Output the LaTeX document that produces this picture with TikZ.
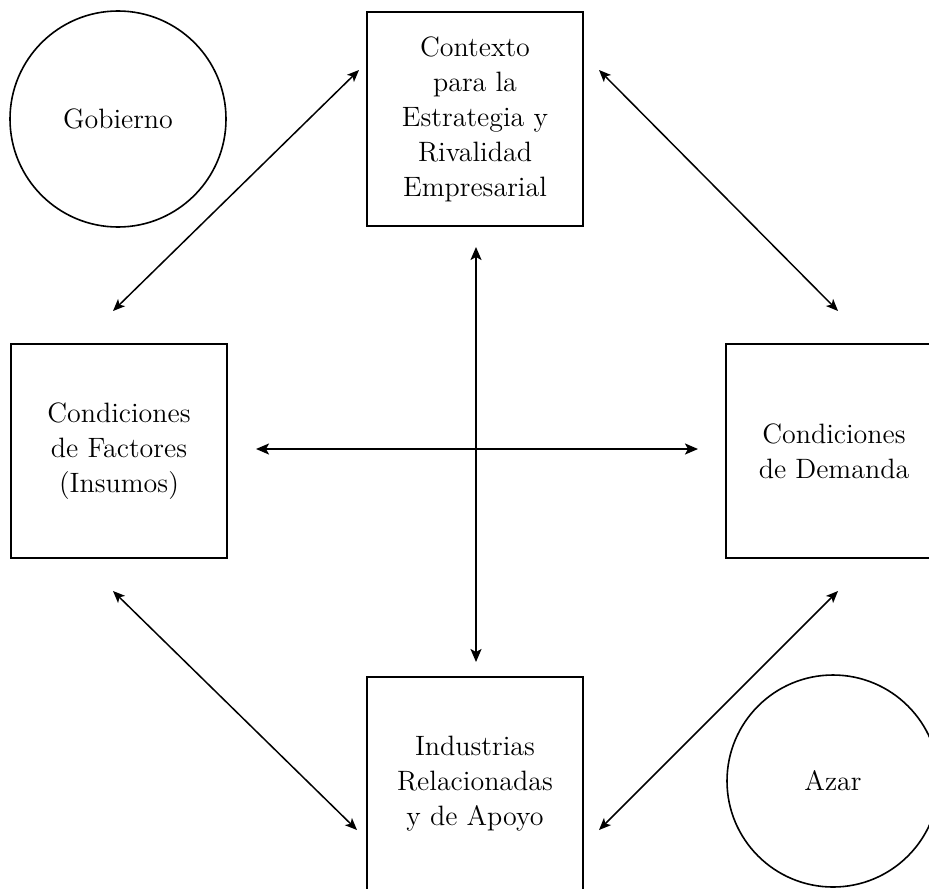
\documentclass[tikz,border=0pt]{standalone}
\usepackage{tikz}
\usetikzlibrary{arrows,arrows.meta,shapes}
\tikzstyle{block} = [rectangle, draw, line width=1pt, align=center, minimum width=108pt, minimum height=107pt, font=\fontsize{14}{17.5}\selectfont]
\tikzstyle{actor} = [circle, draw, line width=0.8pt, inner sep=0pt, font=\fontsize{14}{17.5}\selectfont]
\tikzstyle{line} = [draw, line width=0.75pt, <->, >={Stealth[length=6pt,width=5pt,inset=1.5pt]}]
\tikzstyle{cross} = [draw, line width=1pt, <->, >={Stealth[length=6.5pt,width=5.5pt,inset=1.5pt]}]

\begin{document}
\begin{tikzpicture}[x=0.5pt, y=-0.5pt]
				\useasboundingbox (0,0) rectangle (929,888);
				% Place nodes
				\node [block] (ctx) at (475,119) {Contexto\\para la\\Estrategia y\\Rivalidad\\Empresarial};
				\node [block] (fac) at (119,451) {Condiciones\\de Factores\\(Insumos)};
				\node [block] (dem) at (834,451) {Condiciones\\de Demanda};
				\node [block] (ind) at (475,784) {Industrias\\Relacionadas\\y de Apoyo};
				\node [actor, minimum size=108pt] (gob) at (118,119) {Gobierno};
				\node [actor, minimum size=106pt] (azar) at (833,781) {Azar};
				% Draw edges
				\path [line] ([xshift=-3pt,yshift=16pt]fac.north) -- ([xshift=-3.5pt,yshift=24.5pt]ctx.west);
				\path [line] ([xshift=7.5pt,yshift=24.5pt]ctx.east) -- ([xshift=2pt,yshift=16pt]dem.north);
				\path [line] ([xshift=-3pt,yshift=-16pt]fac.south) -- ([xshift=-4.5pt,yshift=-23pt]ind.west);
				\path [line] ([xshift=7.5pt,yshift=-23pt]ind.east) -- ([xshift=2pt,yshift=-16pt]dem.south);
				\path [cross, shorten <=10pt, shorten >=7pt] ([xshift=0.5pt]ctx.south) -- ([xshift=0.5pt]ind.north);
				\path [cross, shorten <=14pt, shorten >=13.5pt] ([yshift=1pt]fac.east) -- ([yshift=1pt]dem.west);
			\end{tikzpicture}
\end{document}
